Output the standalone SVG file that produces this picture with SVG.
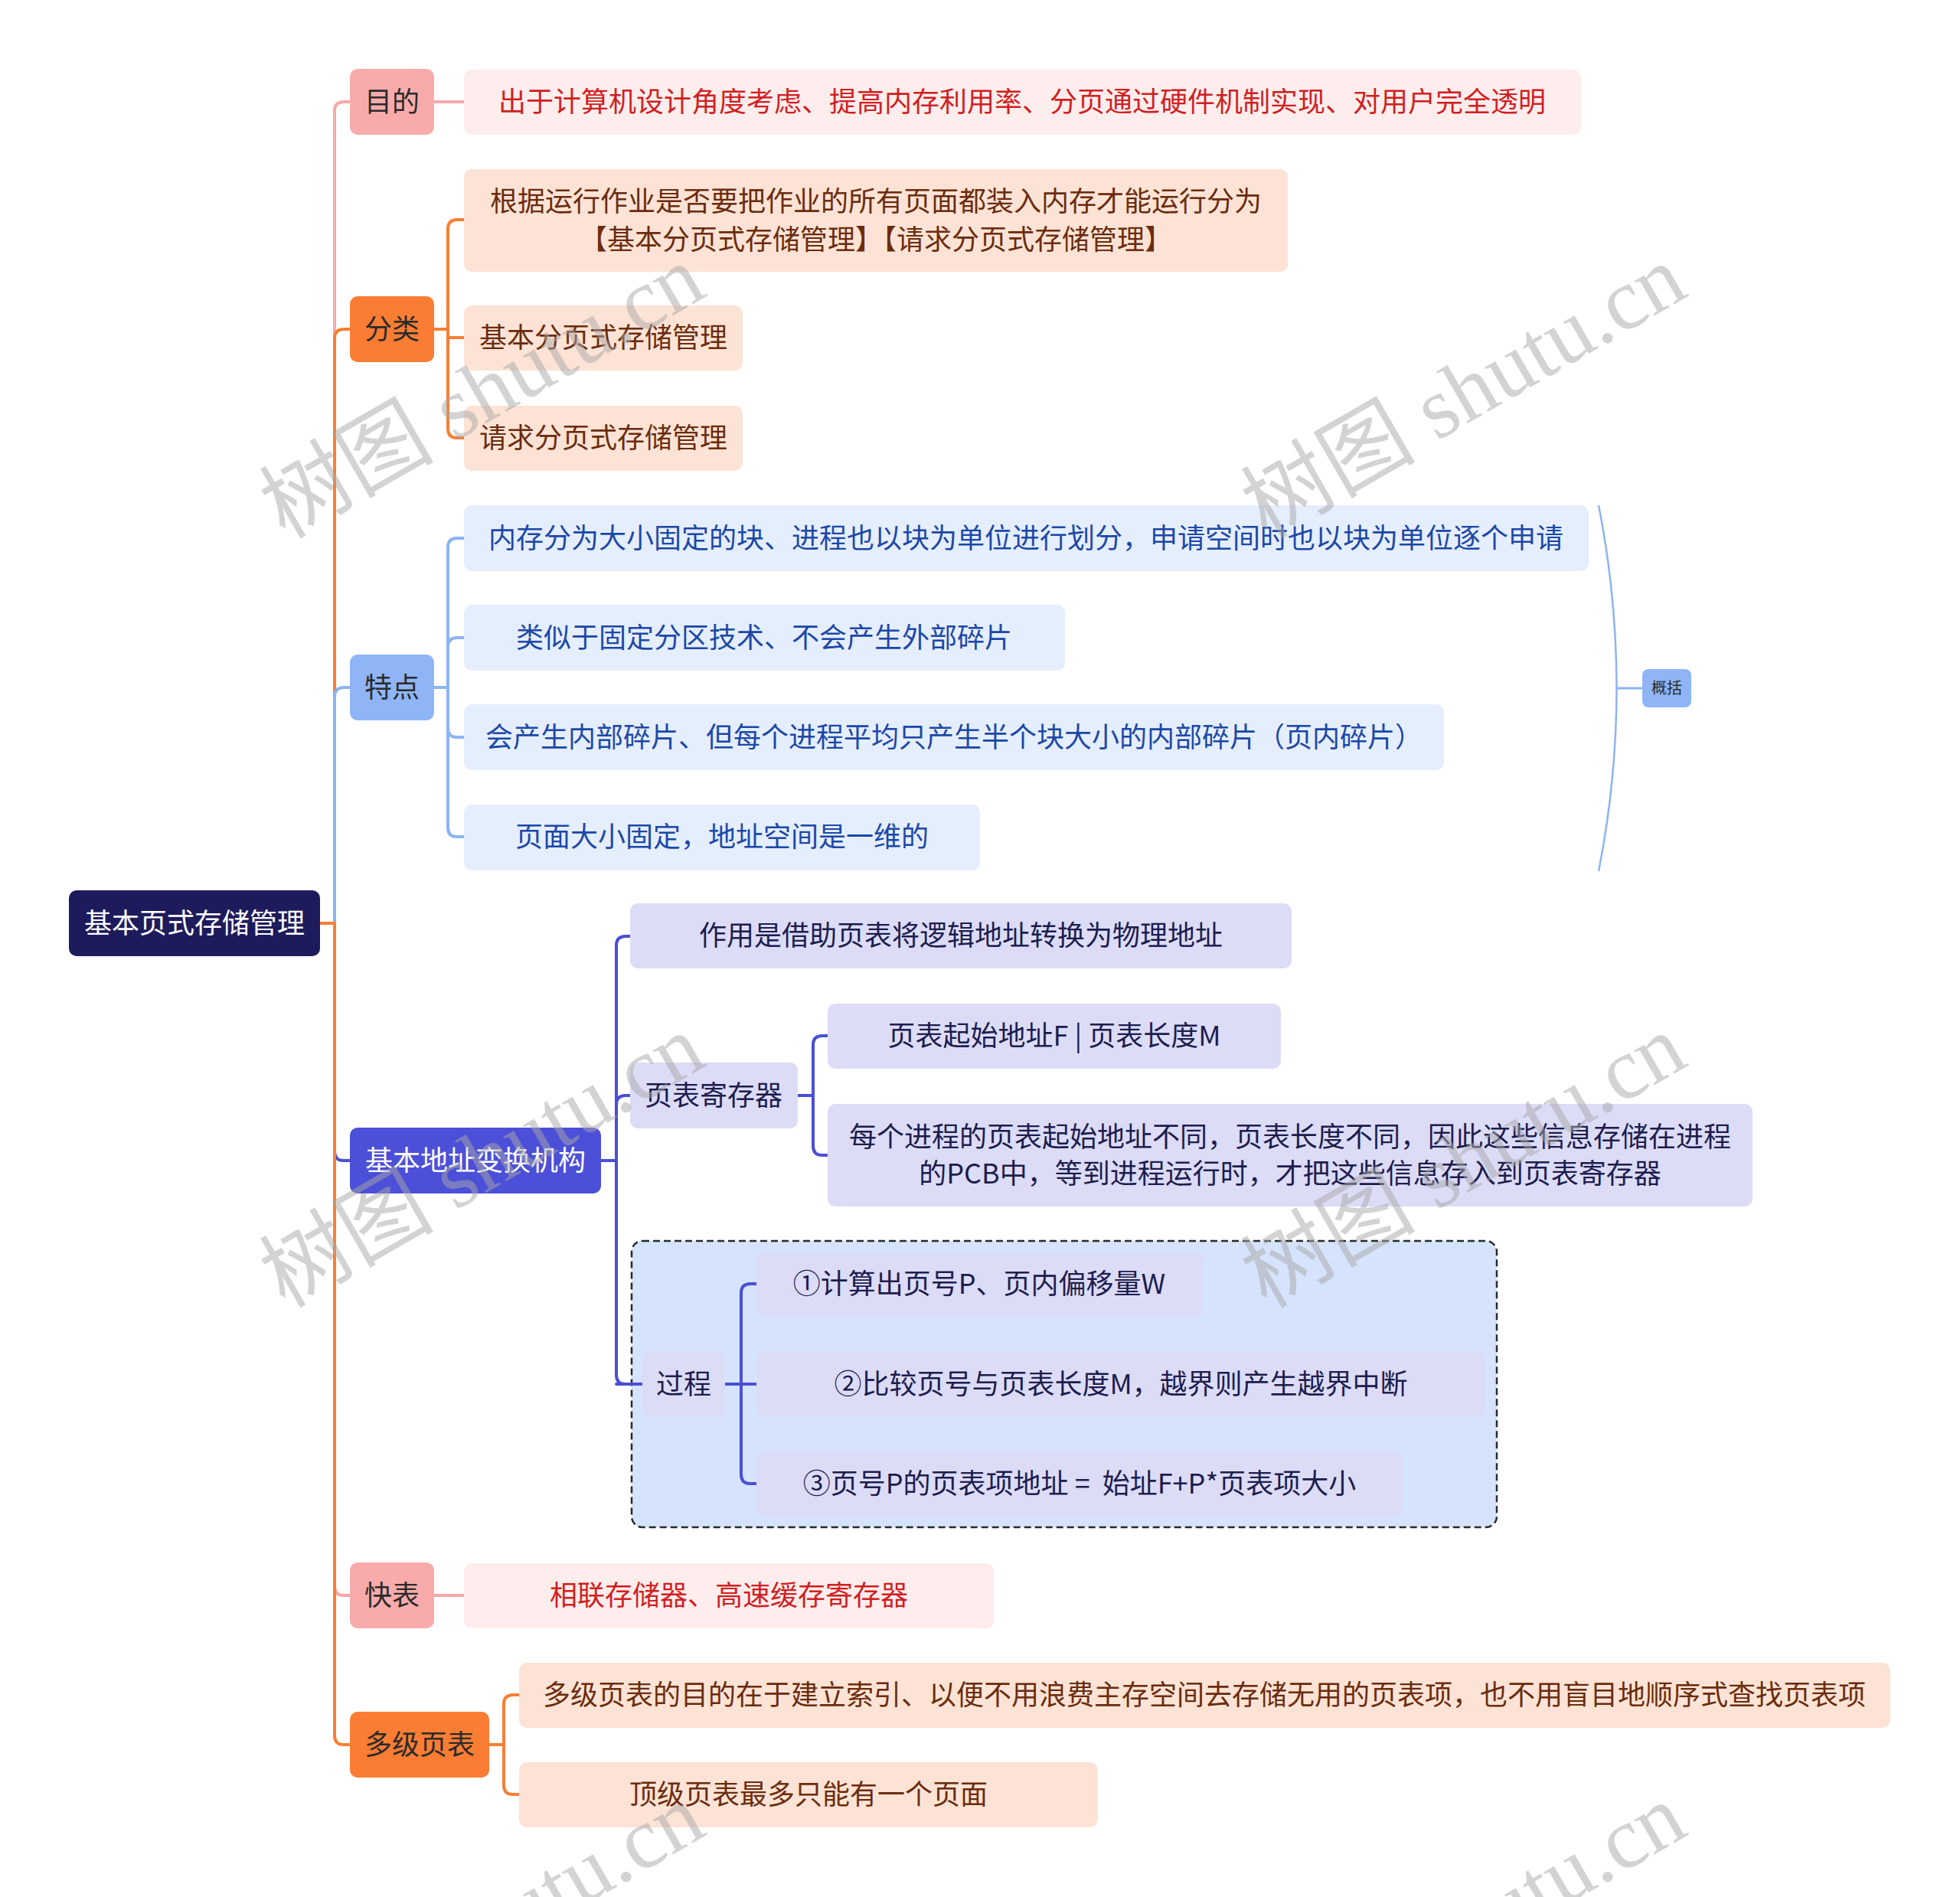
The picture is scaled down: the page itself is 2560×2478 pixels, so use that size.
<svg xmlns="http://www.w3.org/2000/svg" width="2560" height="2478" viewBox="0 0 2560 2478">
<style>
text{font-family:"Noto Sans CJK SC","Noto Sans",sans-serif;font-size:36px;text-anchor:middle}
.c{fill:none;stroke-width:4;stroke-linecap:round;stroke-linejoin:round}
.pk{stroke:#f5a9a9}.or{stroke:#f77f35}.lb{stroke:#8db4f2}.rb{stroke:#4a50d2}
.f-pk{fill:#f9abab}.f-or{fill:#fb7d33}.f-lb{fill:#8fb5f7}.f-rb{fill:#4c50d8}
.s-pk{fill:#fdeded}.s-or{fill:#fde3d5}.s-lb{fill:#e5eefd}.s-rb{fill:#dcdcf7}
.t1{fill:#2b2b2b}.tw{fill:#ffffff}
.t-pk{fill:#d01f22}.t-or{fill:#6b2c0e}.t-lb{fill:#1c48a8}.t-rb{fill:#1d1d4f}
.wm{font-family:"Liberation Serif","Noto Sans CJK SC",serif;font-size:114px;text-anchor:start;fill:#a8a8a8;opacity:0.5}
</style>
<rect width="2560" height="2478" fill="#ffffff"/>

<g id="connectors">
  <path class="c pk" d="M418,1206 H437 V145 Q437,133 449,133 H457"/>
  <path class="c or" d="M418,1206 H437 V442 Q437,430 449,430 H457"/>
  <path class="c lb" d="M418,1206 H437 V910 Q437,898 449,898 H457"/>
  <path class="c rb" d="M418,1206 H437 V1504 Q437,1516 449,1516 H457"/>
  <path class="c pk" d="M418,1206 H437 V2072 Q437,2084 449,2084 H457"/>
  <path class="c or" d="M418,1206 H437 V2267 Q437,2279 449,2279 H457"/>
  <path class="c pk" d="M567,133 H606"/>
  <path class="c or" d="M567,430 H585 V299 Q585,287 597,287 H606"/>
  <path class="c or" d="M585,430 V441 H606"/>
  <path class="c or" d="M585,430 V560 Q585,572 597,572 H606"/>
  <path class="c lb" d="M567,898 H585 V715 Q585,703 597,703 H606"/>
  <path class="c lb" d="M585,898 V845 Q585,833 597,833 H606"/>
  <path class="c lb" d="M585,898 V951 Q585,963 597,963 H606"/>
  <path class="c lb" d="M585,898 V1081 Q585,1093 597,1093 H606"/>
  <path class="c rb" d="M785,1516 H805 V1235 Q805,1223 817,1223 H823"/>
  <path class="c rb" d="M805,1516 V1443 Q805,1431 817,1431 H823"/>
  <path class="c rb" d="M805,1516 V1796 Q805,1808 817,1808 H839"/>
  <path class="c rb" d="M1042,1431 H1062 V1365 Q1062,1353 1074,1353 H1081"/>
  <path class="c rb" d="M1062,1431 V1497 Q1062,1509 1074,1509 H1081"/>
  <path class="c pk" d="M567,2084 H606"/>
  <path class="c or" d="M639,2279 H658 V2226 Q658,2214 670,2214 H678"/>
  <path class="c or" d="M658,2279 V2332 Q658,2344 670,2344 H678"/>
  <path d="M2088,660 Q2135,899 2088,1138" fill="none" stroke="#8db4f2" stroke-width="2.5"/>
  <path d="M2111,899 H2145" fill="none" stroke="#8db4f2" stroke-width="3"/>
</g>

<g id="root">
  <rect x="90" y="1163" width="328" height="86" rx="10" fill="#1e1b5c"/>
  <text x="254" y="1219" class="tw">基本页式存储管理</text>
</g>

<g id="n-mudi">
  <rect x="457" y="90" width="110" height="86" rx="10" class="f-pk"/>
  <text x="512" y="146" class="t1">目的</text>
</g>
<g id="n-mudi-1">
  <rect x="606" y="91" width="1459" height="85" rx="10" class="s-pk"/>
  <text x="1335" y="146" class="t-pk">出于计算机设计角度考虑、提高内存利用率、分页通过硬件机制实现、对用户完全透明</text>
</g>

<g id="n-fenlei">
  <rect x="457" y="387" width="110" height="86" rx="10" class="f-or"/>
  <text x="512" y="443" class="t1">分类</text>
</g>
<g id="n-fenlei-1">
  <rect x="606" y="221" width="1076" height="134" rx="10" class="s-or"/>
  <text x="1144" y="276" class="t-or">根据运行作业是否要把作业的所有页面都装入内存才能运行分为</text>
  <text x="1144" y="326" class="t-or">【基本分页式存储管理】【请求分页式存储管理】</text>
</g>
<g id="n-fenlei-2">
  <rect x="606" y="399" width="364" height="85" rx="10" class="s-or"/>
  <text x="788" y="454" class="t-or">基本分页式存储管理</text>
</g>
<g id="n-fenlei-3">
  <rect x="606" y="530" width="364" height="85" rx="10" class="s-or"/>
  <text x="788" y="585" class="t-or">请求分页式存储管理</text>
</g>

<g id="n-tedian">
  <rect x="457" y="855" width="110" height="86" rx="10" class="f-lb"/>
  <text x="512" y="911" class="t1">特点</text>
</g>
<g id="n-tedian-1">
  <rect x="606" y="660" width="1469" height="86" rx="10" class="s-lb"/>
  <text x="1340" y="716" class="t-lb">内存分为大小固定的块、进程也以块为单位进行划分，申请空间时也以块为单位逐个申请</text>
</g>
<g id="n-tedian-2">
  <rect x="606" y="790" width="785" height="86" rx="10" class="s-lb"/>
  <text x="998" y="846" class="t-lb">类似于固定分区技术、不会产生外部碎片</text>
</g>
<g id="n-tedian-3">
  <rect x="606" y="920" width="1280" height="86" rx="10" class="s-lb"/>
  <text x="1246" y="976" class="t-lb">会产生内部碎片、但每个进程平均只产生半个块大小的内部碎片（页内碎片）</text>
</g>
<g id="n-tedian-4">
  <rect x="606" y="1051" width="674" height="86" rx="10" class="s-lb"/>
  <text x="943" y="1106" class="t-lb">页面大小固定，地址空间是一维的</text>
</g>
<g id="n-gaikuo">
  <rect x="2145" y="874" width="64" height="50" rx="8" class="f-lb"/>
  <text x="2177" y="906" style="font-size:20px" class="t1">概括</text>
</g>

<g id="n-dizhi">
  <rect x="457" y="1473" width="328" height="86" rx="10" class="f-rb"/>
  <text x="621" y="1529" class="tw">基本地址变换机构</text>
</g>
<g id="n-dizhi-1">
  <rect x="823" y="1180" width="864" height="85" rx="10" class="s-rb"/>
  <text x="1255" y="1235" class="t-rb">作用是借助页表将逻辑地址转换为物理地址</text>
</g>
<g id="n-jicunqi">
  <rect x="823" y="1388" width="219" height="86" rx="10" class="s-rb"/>
  <text x="932" y="1444" class="t-rb">页表寄存器</text>
</g>
<g id="n-jicunqi-1">
  <rect x="1081" y="1311" width="592" height="85" rx="10" class="s-rb"/>
  <text x="1377" y="1366" class="t-rb">页表起始地址F | 页表长度M</text>
</g>
<g id="n-jicunqi-2">
  <rect x="1081" y="1442" width="1208" height="134" rx="10" class="s-rb"/>
  <text x="1685" y="1498" class="t-rb">每个进程的页表起始地址不同，页表长度不同，因此这些信息存储在进程</text>
  <text x="1685" y="1546" class="t-rb">的PCB中，等到进程运行时，才把这些信息存入到页表寄存器</text>
</g>

<g id="grp-guocheng">
  <rect x="825" y="1621" width="1130" height="374" rx="14" fill="#d5e3fc" stroke="#2a2a2a" stroke-width="2.5" stroke-dasharray="9 5"/>
</g>
<g id="conn-guocheng" fill="none">
  <path class="c rb" d="M947,1808 H968 V1689 Q968,1677 980,1677 H988"/>
  <path class="c rb" d="M968,1808 H988"/>
  <path class="c rb" d="M968,1808 V1926 Q968,1938 980,1938 H988"/>
  <path class="c rb" d="M805,1808 H839"/>
</g>
<g id="n-guocheng">
  <rect x="839" y="1766" width="108" height="84" rx="10" class="s-rb"/>
  <text x="893" y="1821" class="t-rb">过程</text>
</g>
<g id="n-guocheng-1">
  <rect x="988" y="1635" width="583" height="85" rx="10" class="s-rb"/>
  <text x="1279" y="1690" class="t-rb">①计算出页号P、页内偏移量W</text>
</g>
<g id="n-guocheng-2">
  <rect x="988" y="1766" width="953" height="84" rx="10" class="s-rb"/>
  <text x="1464" y="1821" class="t-rb">②比较页号与页表长度M，越界则产生越界中断</text>
</g>
<g id="n-guocheng-3">
  <rect x="988" y="1896" width="845" height="85" rx="10" class="s-rb"/>
  <text x="1410" y="1951" class="t-rb" xml:space="preserve">③页号P的页表项地址 =  始址F+P*页表项大小</text>
</g>

<g id="n-kuaibiao">
  <rect x="457" y="2041" width="110" height="86" rx="10" class="f-pk"/>
  <text x="512" y="2097" class="t1">快表</text>
</g>
<g id="n-kuaibiao-1">
  <rect x="606" y="2042" width="692" height="85" rx="10" class="s-pk"/>
  <text x="952" y="2097" class="t-pk">相联存储器、高速缓存寄存器</text>
</g>

<g id="n-duoji">
  <rect x="457" y="2236" width="182" height="86" rx="10" class="f-or"/>
  <text x="548" y="2292" class="t1">多级页表</text>
</g>
<g id="n-duoji-1">
  <rect x="678" y="2172" width="1791" height="85" rx="10" class="s-or"/>
  <text x="1573" y="2227" class="t-or">多级页表的目的在于建立索引、以便不用浪费主存空间去存储无用的页表项，也不用盲目地顺序式查找页表项</text>
</g>
<g id="n-duoji-2">
  <rect x="678" y="2302" width="756" height="85" rx="10" class="s-or"/>
  <text x="1056" y="2357" class="t-or">顶级页表最多只能有一个页面</text>
</g>

<g id="watermark">
  <text class="wm" x="372" y="705" transform="rotate(-30 372 705)">树图 shutu.cn</text>
  <text class="wm" x="1654" y="705" transform="rotate(-30 1654 705)">树图 shutu.cn</text>
  <text class="wm" x="372" y="1710" transform="rotate(-30 372 1710)">树图 shutu.cn</text>
  <text class="wm" x="1654" y="1710" transform="rotate(-30 1654 1710)">树图 shutu.cn</text>
  <text class="wm" x="372" y="2715" transform="rotate(-30 372 2715)">树图 shutu.cn</text>
  <text class="wm" x="1654" y="2715" transform="rotate(-30 1654 2715)">树图 shutu.cn</text>
</g>
</svg>
